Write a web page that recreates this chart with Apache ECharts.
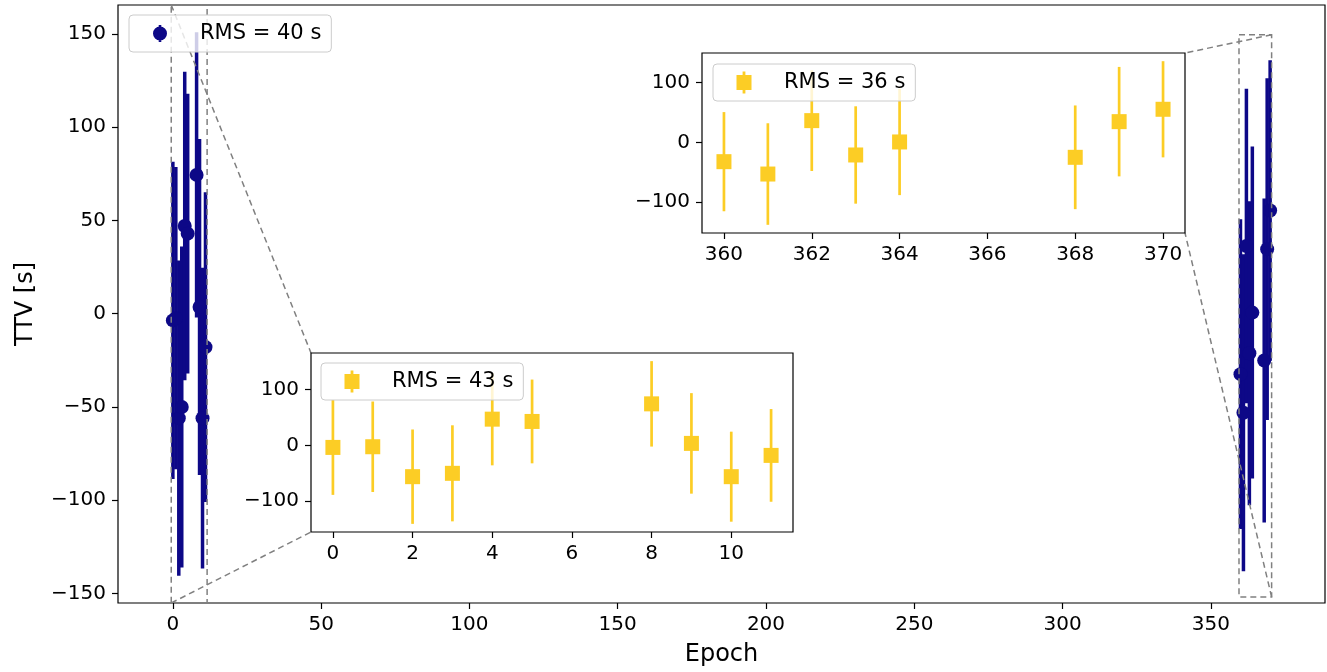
<!DOCTYPE html>
<html>
<head>
<meta charset="utf-8">
<script src="https://cdn.jsdelivr.net/npm/echarts@6/dist/echarts.min.js"></script>
<style>
  html, body { margin: 0; padding: 0; background: #fff; }
  #chart { width: 1327px; height: 672px; }
</style>
</head>
<body>
<div id="chart"></div>
<script>
// Transit-timing variations of two observing seasons
const epochsEarly = [0, 1, 2, 3, 4, 5, 8, 9, 10, 11];
const ttvEarly    = [-3.6, -2.4, -56, -50, 47, 42.9, 74.4, 3.6, -56, -17.9];
const errEarly    = [85, 81, 84.5, 86, 82.7, 75, 76.5, 90, 80.6, 83];

const epochsLate = [360, 361, 362, 363, 364, 368, 369, 370];
const ttvLate    = [-32.4, -53.1, 36.3, -21.2, 0.6, -25.1, 34.6, 55.3];
const errLate    = [83, 85, 84.3, 81.5, 89, 86.8, 91.6, 80.5];

const labelAll   = 'RMS = 40 s';
const labelEarly = 'RMS = 43 s';
const labelLate  = 'RMS = 36 s';

const mainXTicks  = [0, 50, 100, 150, 200, 250, 300, 350];
const mainYTicks  = [-150, -100, -50, 0, 50, 100, 150];
const earlyXTicks = [0, 2, 4, 6, 8, 10];
const lateXTicks  = [360, 362, 364, 366, 368, 370];
const insetYTicks = [-100, 0, 100];

const BLUE = '#0d0887';
const GOLD = '#fccd25';
const GUIDE = '#808080';
const FONT = 'DejaVu Sans';

// axis limits: data extent plus 5 % margin on each side
function padded(lo, hi) { const d = hi - lo; return [lo - 0.05 * d, hi + 0.05 * d]; }
function xLimits(xs) { return padded(Math.min(...xs), Math.max(...xs)); }
function yLimits(ys, es) {
  return padded(Math.min(...ys.map((y, i) => y - es[i])), Math.max(...ys.map((y, i) => y + es[i])));
}

const epochsAll = epochsEarly.concat(epochsLate);
const ttvAll = ttvEarly.concat(ttvLate);
const errAll = errEarly.concat(errLate);

const mainX = xLimits(epochsAll), mainY = yLimits(ttvAll, errAll);
const earlyX = xLimits(epochsEarly), earlyY = yLimits(ttvEarly, errEarly);
const lateX = xLimits(epochsLate), lateY = yLimits(ttvLate, errLate);

const fmt = v => (v < 0 ? '\u2212' + Math.abs(v) : String(v));

function valueAxis(gridIndex, lim, ticks, z, extra) {
  return Object.assign({
    type: 'value', gridIndex, min: lim[0], max: lim[1], z,
    axisLine: { show: false, onZero: false },
    splitLine: { show: false },
    axisTick: { show: true, inside: false, length: 6, customValues: ticks,
                lineStyle: { color: '#000', width: 1.2 } },
    axisLabel: { customValues: ticks, color: '#000', fontSize: 20, fontFamily: FONT,
                 margin: 12, formatter: fmt }
  }, extra || {});
}

function errorBars(axisIndex, xs, ys, es, color, width, z) {
  return {
    type: 'custom', xAxisIndex: axisIndex, yAxisIndex: axisIndex, z, silent: true,
    data: xs.map((x, i) => [x, ys[i], es[i]]),
    renderItem: (params, api) => {
      const x = api.value(0), y = api.value(1), e = api.value(2);
      const a = api.coord([x, y + e]), b = api.coord([x, y - e]);
      return { type: 'line', shape: { x1: a[0], y1: a[1], x2: b[0], y2: b[1] },
               style: { stroke: color, lineWidth: width } };
    }
  };
}

function markers(name, axisIndex, xs, ys, symbol, size, color, z) {
  return {
    type: 'scatter', name, xAxisIndex: axisIndex, yAxisIndex: axisIndex, z, silent: true,
    symbol, symbolSize: size, itemStyle: { color, opacity: 1 },
    data: xs.map((x, i) => [x, ys[i]])
  };
}

// legend glyphs: marker with a short vertical error bar through it; the two
// empty sub-paths at x = -23 and x = 35 widen the glyph box so the marker sits
// left of centre and the label keeps its distance from it
const glyphFrame = 'M-23,0 L-23,0 Z M35,0 L35,0 Z ';
const circleGlyph = 'path://' + glyphFrame +
  'M-1.3,-8.5 L1.3,-8.5 L1.3,-5.8 L-1.3,-5.8 Z ' +
  'M-7,0 A7,7 0 1,1 7,0 A7,7 0 1,1 -7,0 Z ' +
  'M-1.3,5.8 L1.3,5.8 L1.3,8.5 L-1.3,8.5 Z';
const squareGlyph = 'path://' + glyphFrame +
  'M-1.4,-11 L1.4,-11 L1.4,-7.5 L-1.4,-7.5 Z ' +
  'M-7.5,-7.5 L7.5,-7.5 L7.5,7.5 L-7.5,7.5 Z ' +
  'M-1.4,7.5 L1.4,7.5 L1.4,11 L-1.4,11 Z';

function legendBox(name, icon, iconH, left, top, z) {
  return {
    data: [{ name, icon }], left, top, z, selectedMode: false,
    padding: [6, 10, 6, 8], itemWidth: 58, itemHeight: iconH,
    backgroundColor: 'rgba(255,255,255,0.8)', borderColor: '#cccccc',
    borderWidth: 1, borderRadius: 4,
    textStyle: { fontSize: 21, fontFamily: FONT, color: '#000', lineHeight: 25 }
  };
}

const gridStyle = { show: true, backgroundColor: '#fff', borderColor: '#000', borderWidth: 1.2 };

const chart = echarts.init(document.getElementById('chart'), null, { renderer: 'canvas' });

chart.setOption({
  animation: false,
  backgroundColor: '#fff',
  grid: [
    Object.assign({ left: 118, top: 5, width: 1207, height: 598, z: 0 }, gridStyle),
    Object.assign({ left: 311, top: 353, width: 482, height: 179, z: 5 }, gridStyle),
    Object.assign({ left: 702, top: 53, width: 483, height: 180, z: 5 }, gridStyle)
  ],
  xAxis: [
    valueAxis(0, mainX, mainXTicks, 0, {
      name: 'Epoch', nameLocation: 'middle', nameGap: 40,
      nameTextStyle: { fontSize: 24, fontFamily: FONT, color: '#000' }
    }),
    valueAxis(1, earlyX, earlyXTicks, 6),
    valueAxis(2, lateX, lateXTicks, 6)
  ],
  yAxis: [
    valueAxis(0, mainY, mainYTicks, 0, {
      name: 'TTV [s]', nameLocation: 'middle', nameGap: 80,
      nameTextStyle: { fontSize: 24, fontFamily: FONT, color: '#000' }
    }),
    valueAxis(1, earlyY, insetYTicks, 6),
    valueAxis(2, lateY, insetYTicks, 6)
  ],
  legend: [
    legendBox(labelAll, circleGlyph, 17, 129, 15, 4),
    legendBox(labelEarly, squareGlyph, 22, 321, 363, 12),
    legendBox(labelLate, squareGlyph, 22, 713, 64, 12)
  ],
  series: [
    errorBars(0, epochsAll, ttvAll, errAll, BLUE, 3.5, 2),
    markers(labelAll, 0, epochsAll, ttvAll, 'circle', 14, BLUE, 2),
    errorBars(1, epochsEarly, ttvEarly, errEarly, GOLD, 2.7, 10),
    markers(labelEarly, 1, epochsEarly, ttvEarly, 'rect', 15, GOLD, 10),
    errorBars(2, epochsLate, ttvLate, errLate, GOLD, 2.7, 10),
    markers(labelLate, 2, epochsLate, ttvLate, 'rect', 15, GOLD, 10)
  ]
});

// zoom indicators: dashed outline of each inset's range on the main axes,
// joined to the inset corners by dashed connectors
const px = (idx, pt) => chart.convertToPixel({ xAxisIndex: idx, yAxisIndex: idx }, pt);
const mainTL = px(0, [mainX[0], mainY[1]]), mainBR = px(0, [mainX[1], mainY[0]]);
const clampY = y => Math.min(Math.max(y, mainTL[1]), mainBR[1]);
const dash = { stroke: GUIDE, lineWidth: 1.5, lineDash: [6, 4], fill: 'none' };

function indicator(idx, xl, yl, side) {
  const tl = px(0, [xl[0], yl[1]]), br = px(0, [xl[1], yl[0]]);
  const top = clampY(tl[1]), bottom = clampY(br[1]);
  const insetTL = px(idx, [xl[0], yl[1]]), insetBR = px(idx, [xl[1], yl[0]]);
  const cx = side === 'left' ? tl[0] : br[0];
  const ix = side === 'left' ? insetTL[0] : insetBR[0];
  return [
    { type: 'rect', silent: true, z: 3,
      shape: { x: tl[0], y: top, width: br[0] - tl[0], height: bottom - top }, style: dash },
    { type: 'line', silent: true, z: 3,
      shape: { x1: cx, y1: top, x2: ix, y2: insetTL[1] }, style: dash },
    { type: 'line', silent: true, z: 3,
      shape: { x1: cx, y1: bottom, x2: ix, y2: insetBR[1] }, style: dash }
  ];
}

chart.setOption({
  graphic: indicator(1, earlyX, earlyY, 'left').concat(indicator(2, lateX, lateY, 'right'))
});
</script>
</body>
</html>
